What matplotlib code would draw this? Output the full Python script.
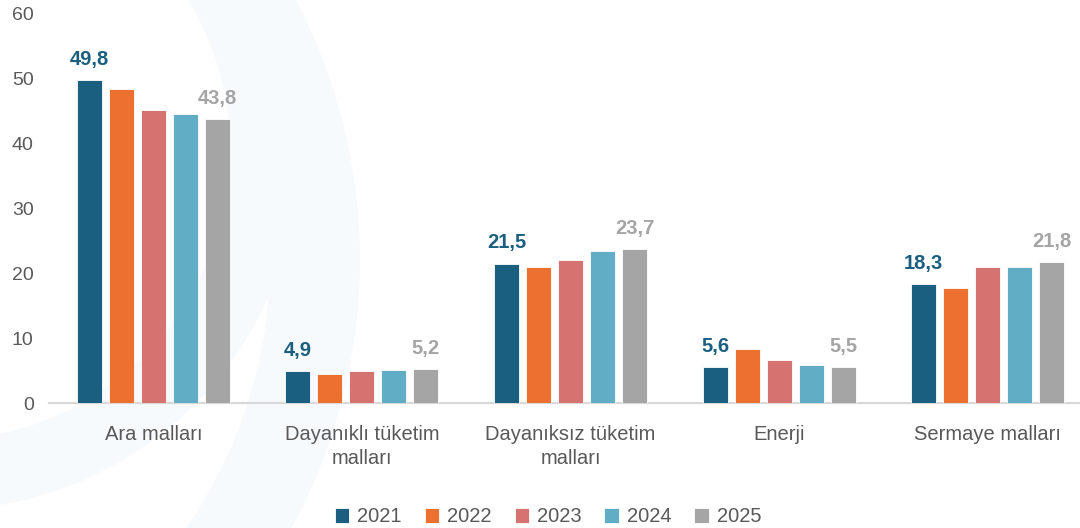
import matplotlib
matplotlib.use("Agg")
import matplotlib.pyplot as plt
from matplotlib.patches import Wedge
import numpy as np

categories = ["Ara malları", "Dayanıklı tüketim\nmalları", "Dayanıksız tüketim\nmalları", "Enerji", "Sermaye malları"]
years = ["2021", "2022", "2023", "2024", "2025"]
v2021 = [49.8, 4.9, 21.5, 5.6, 18.3]
v2022 = [48.5, 4.4, 20.9, 8.3, 17.8]
v2023 = [45.2, 4.9, 22.1, 6.7, 21.0]
v2024 = [44.6, 5.05, 23.5, 5.9, 21.0]
v2025 = [43.8, 5.2, 23.7, 5.5, 21.8]
series = [v2021, v2022, v2023, v2024, v2025]
colors = ["#1a5f7f", "#ec7030", "#d47370", "#62adc6", "#a5a5a5"]
yticks = [0, 10, 20, 30, 40, 50, 60]

plt.rcParams['font.family'] = ['Liberation Sans', 'DejaVu Sans']

fig = plt.figure(figsize=(10.8, 5.28), dpi=100)
fig.patch.set_facecolor("white")

# faint background watermark
bg = fig.add_axes([0, 0, 1, 1], zorder=0)
bg.set_xlim(0, 1080)
bg.set_ylim(528, 0)
bg.axis("off")
bg.add_patch(Wedge((-200, 260), 560, 0, 360, width=90, color="#f7fafc", lw=0))
bg.add_patch(Wedge((-60, 150), 360, 0, 360, width=70, color="#f7fafc", lw=0))

ax = fig.add_axes([49/1080, 125/528, 1043/1080, 389/528], zorder=1)
ax.patch.set_alpha(0)

x = np.arange(len(categories))
width = 0.12
step = 0.1535
for i, (vals, c, yr) in enumerate(zip(series, colors, years)):
    pos = x + (i - 2) * step
    bars = ax.bar(pos, vals, width=width, color=c, edgecolor="white", linewidth=0.6, label=yr, zorder=2)
    if i == 0 or i == 4:
        lc = "#1a5f7f" if i == 0 else "#a5a5a5"
        for b, v in zip(bars, vals):
            ax.annotate(f"{v:.1f}".replace(".", ","), (b.get_x() + b.get_width()/2, v),
                        xytext=(0, 8), textcoords="offset points", ha="center", va="bottom",
                        fontsize=14.5, fontweight="bold", color=lc)

ax.set_xlim(-0.5, 4.5)
ax.set_ylim(0, 60)
ax.set_yticks(yticks)
ax.set_yticklabels([str(t) for t in yticks])
ax.set_xticks(x)
ax.set_xticklabels(categories, linespacing=1.3)
ax.tick_params(axis="y", length=0, pad=11, labelsize=14, labelcolor="#595959")
ax.tick_params(axis="x", length=0, pad=16, labelsize=14.5, labelcolor="#595959")
for s in ["top", "right", "left"]:
    ax.spines[s].set_visible(False)
ax.spines["bottom"].set_color("#d9d9d9")
ax.spines["bottom"].set_linewidth(1.6)
ax.spines["bottom"].set_zorder(1)

leg = fig.legend(loc="center", bbox_to_anchor=(548/1080, 1 - 517/528), ncol=5, frameon=False,
                 fontsize=14.5, handlelength=0.7, handleheight=0.7, handletextpad=0.4,
                 columnspacing=1.15, labelcolor="#595959")

fig.savefig("out.png", dpi=100)
